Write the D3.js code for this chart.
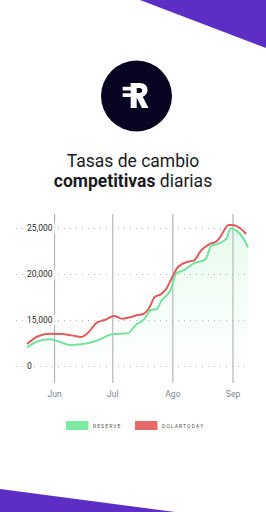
<!DOCTYPE html>
<html>
<head>
<meta charset="utf-8">
<script src="https://cdn.jsdelivr.net/npm/d3@7"></script>
<style>
  html, body { margin: 0; padding: 0; background: #fff; }
  svg { display: block; }
</style>
</head>
<body>
<div id="chart"></div>
<script>
// Series (date, value)
const reserveDates = ["2018-05-18","2018-05-23","2018-05-30","2018-06-04","2018-06-09","2018-06-15",
  "2018-06-23","2018-07-01","2018-07-09","2018-07-13","2018-07-17","2018-07-21","2018-07-24",
  "2018-07-26","2018-07-31","2018-08-03","2018-08-07","2018-08-12","2018-08-18","2018-08-21",
  "2018-08-25","2018-08-29","2018-08-31","2018-09-03","2018-09-06","2018-09-09"];
const reserveValues = [12030, 12640, 12900, 12610, 12280, 12360,
  12750, 13440, 13550, 14460, 15000, 16090, 16200,
  16990, 18260, 20070, 20430, 21160, 21590, 23040,
  23330, 23870, 24970, 24710, 24060, 22900];

const dolarDates = ["2018-05-18","2018-05-24","2018-05-30","2018-06-05","2018-06-10","2018-06-15",
  "2018-06-19","2018-06-23","2018-06-27","2018-07-02","2018-07-06","2018-07-10","2018-07-14",
  "2018-07-17","2018-07-20","2018-07-23","2018-07-26","2018-07-29","2018-08-01","2018-08-04",
  "2018-08-09","2018-08-12","2018-08-16","2018-08-20","2018-08-24","2018-08-26","2018-08-30",
  "2018-09-01","2018-09-05","2018-09-08"];
const dolarValues = [12390, 13260, 13510, 13480, 13330, 13150,
  13730, 14710, 15000, 15430, 15140, 15300, 15540,
  15650, 16300, 17530, 17790, 18440, 19710, 20790,
  21340, 21450, 22610, 23230, 23590, 24130, 25330,
  25330, 24970, 24350];

const yTickValues = [10000, 15000, 20000, 25000];
const yTickLabels = ["0", "15,000", "20,000", "25,000"];
const monthTicks = ["2018-06-01", "2018-07-01", "2018-08-01", "2018-09-01"];
const monthLabels = ["Jun", "Jul", "Ago", "Sep"];
const seriesNames = ["RESERVE", "DOLARTODAY"];

const width = 266, height = 512;
const purple = "#5d2ec6";
const greenLine = "#72e49c", redLine = "#e05c5c";
const greenKey = "#7ceaa3", redKey = "#e76a6a";

const parse = d3.timeParse("%Y-%m-%d");
const reserve = reserveDates.map((d, i) => ({date: parse(d), value: reserveValues[i]}));
const dolar = dolarDates.map((d, i) => ({date: parse(d), value: dolarValues[i]}));

const svg = d3.select("#chart").append("svg")
  .attr("width", width).attr("height", height);

// purple corner shapes
svg.append("path").attr("d", "M140,0 L266,0 L266,48 Z").attr("fill", purple);
svg.append("path").attr("d", "M0,489 L175,512 L0,512 Z").attr("fill", purple);

// logo
const logo = svg.append("g").attr("transform", "translate(136.5,96)");
logo.append("circle").attr("r", 35.5).attr("fill", "#070522");
logo.append("path")
  .attr("fill", "#fff")
  .attr("fill-rule", "evenodd")
  .attr("d",
    "M-5.8,-13 H3 C8.5,-13 11,-10 11,-6 C11,-2.4 9,-0.2 6.2,0.8 L12,12 H5.4 L0.4,2 H0.2 V12 H-5.8 Z" +
    " M0.2,-8 V-3 H3.2 C4.8,-3 5.6,-4 5.6,-5.5 C5.6,-7 4.8,-8 3.2,-8 Z" +
    " M-13.8,-9.3 H-5.8 V-5.6 H-13.8 Z M-13.8,-2.8 H-5.8 V0.9 H-13.8 Z");

// title
const title = svg.append("text")
  .attr("text-anchor", "middle")
  .attr("font-family", "Roboto, 'Noto Sans', sans-serif")
  .attr("font-size", 17.5)
  .attr("fill", "#1b1b1f");
title.append("tspan").attr("x", 133).attr("y", 166.5).text("Tasas de cambio");
const line2 = title.append("tspan").attr("x", 133).attr("y", 187);
line2.append("tspan").attr("font-weight", 700).text("competitivas");
line2.append("tspan").text(" diarias");

// scales
const x = d3.scaleTime()
  .domain([parse("2018-05-18"), parse("2018-09-09")])
  .range([27, 248]);
const y = d3.scaleLinear().domain([10000, 25000]).range([366, 228]);

// horizontal dotted grid
const gridX0 = 16, gridX1 = 247;
const yAxis = svg.append("g")
  .attr("transform", "translate(" + gridX0 + ",0)")
  .call(d3.axisRight(y).tickValues(yTickValues).tickSize(gridX1 - gridX0)
    .tickFormat((d, i) => yTickLabels[i]));
yAxis.select(".domain").remove();
yAxis.selectAll(".tick line")
  .attr("stroke", "#b4b8bd").attr("stroke-dasharray", "1,5");

// vertical month lines
const xAxis = svg.append("g")
  .attr("transform", "translate(0,383)")
  .call(d3.axisBottom(x).tickValues(monthTicks.map(parse)).tickSize(-(383 - 214))
    .tickPadding(8).tickFormat((d, i) => monthLabels[i]));
xAxis.select(".domain").remove();
xAxis.selectAll(".tick line").attr("stroke", "#a3a8b0").attr("stroke-width", 1);
xAxis.selectAll(".tick text")
  .attr("fill", "#7d8494")
  .attr("font-size", 8.5)
  .attr("font-family", "Roboto, 'Noto Sans', sans-serif");

// area under reserve
const grad = svg.append("defs").append("linearGradient")
  .attr("id", "fade").attr("x1", 0).attr("y1", 0).attr("x2", 0).attr("y2", 1);
grad.append("stop").attr("offset", "0%").attr("stop-color", "#7ceaa3").attr("stop-opacity", 0.18);
grad.append("stop").attr("offset", "100%").attr("stop-color", "#7ceaa3").attr("stop-opacity", 0);

svg.append("path")
  .datum(reserve)
  .attr("fill", "url(#fade)")
  .attr("d", d3.area().curve(d3.curveMonotoneX)
    .x(d => x(d.date)).y0(y(10000)).y1(d => y(d.value)));

const lineGen = d3.line().curve(d3.curveMonotoneX)
  .x(d => x(d.date)).y(d => y(d.value));

svg.append("path").datum(reserve)
  .attr("fill", "none").attr("stroke", greenLine).attr("stroke-width", 2)
  .attr("d", lineGen);
svg.append("path").datum(dolar)
  .attr("fill", "none").attr("stroke", redLine).attr("stroke-width", 2)
  .attr("d", lineGen);

// y labels on top with white backing
yAxis.raise();
yAxis.selectAll(".tick line").lower();
yAxis.selectAll(".tick text")
  .attr("x", 27 - gridX0)
  .attr("text-anchor", "start")
  .attr("fill", "#2a2a2e")
  .attr("font-size", 8.5)
  .attr("font-family", "Roboto, 'Noto Sans', sans-serif")
  .each(function() {
    const bb = this.getBBox();
    d3.select(this.parentNode).insert("rect", "text")
      .attr("x", bb.x - 2).attr("y", bb.y).attr("width", bb.width + 4).attr("height", bb.height)
      .attr("fill", "#fff");
  });

// legend
const legend = svg.append("g").attr("font-family", "Roboto, 'Noto Sans', sans-serif");
const keyX = [66, 135];
const keyColors = [greenKey, redKey];
seriesNames.forEach((name, i) => {
  legend.append("rect").attr("x", keyX[i]).attr("y", 421).attr("width", 22.5).attr("height", 9)
    .attr("fill", keyColors[i]);
  legend.append("text").attr("x", keyX[i] + 27).attr("y", 427.5)
    .attr("font-size", 5).attr("letter-spacing", 1.1).attr("fill", "#555")
    .text(name);
});
</script>
</body>
</html>
